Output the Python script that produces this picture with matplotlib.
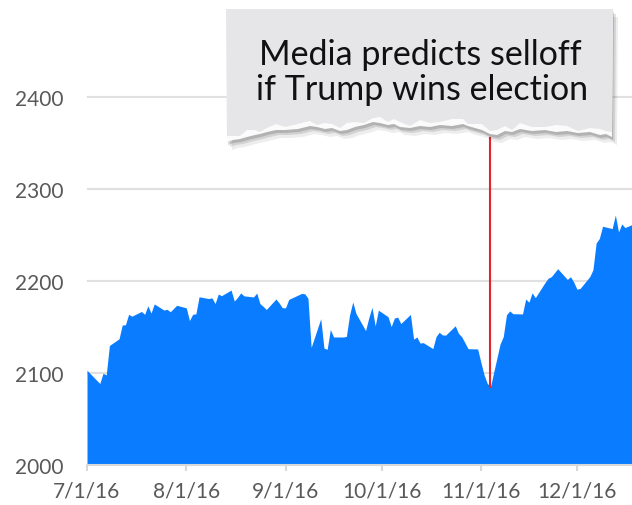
import matplotlib.pyplot as plt
import numpy as np
import pandas as pd
from matplotlib.patches import Polygon

# S&P 500 daily close
dates = [
    "2016-07-01", "2016-07-05", "2016-07-06", "2016-07-07", "2016-07-08",
    "2016-07-11", "2016-07-12", "2016-07-13", "2016-07-14", "2016-07-15",
    "2016-07-18", "2016-07-19", "2016-07-20", "2016-07-21", "2016-07-22",
    "2016-07-25", "2016-07-26", "2016-07-27", "2016-07-28", "2016-07-29",
    "2016-08-01", "2016-08-02", "2016-08-03", "2016-08-04", "2016-08-05",
    "2016-08-08", "2016-08-09", "2016-08-10", "2016-08-11", "2016-08-12",
    "2016-08-15", "2016-08-16", "2016-08-17", "2016-08-18", "2016-08-19",
    "2016-08-22", "2016-08-23", "2016-08-24", "2016-08-25", "2016-08-26",
    "2016-08-29", "2016-08-30", "2016-08-31", "2016-09-01", "2016-09-02",
    "2016-09-06", "2016-09-07", "2016-09-08", "2016-09-09", "2016-09-12",
    "2016-09-13", "2016-09-14", "2016-09-15", "2016-09-16", "2016-09-19",
    "2016-09-20", "2016-09-21", "2016-09-22", "2016-09-23", "2016-09-26",
    "2016-09-27", "2016-09-28", "2016-09-29", "2016-09-30", "2016-10-03",
    "2016-10-04", "2016-10-05", "2016-10-06", "2016-10-07", "2016-10-10",
    "2016-10-11", "2016-10-12", "2016-10-13", "2016-10-14", "2016-10-17",
    "2016-10-18", "2016-10-19", "2016-10-20", "2016-10-21", "2016-10-24",
    "2016-10-25", "2016-10-26", "2016-10-27", "2016-10-28", "2016-10-31",
    "2016-11-01", "2016-11-02", "2016-11-03", "2016-11-04", "2016-11-07",
    "2016-11-08", "2016-11-09", "2016-11-10", "2016-11-11", "2016-11-14",
    "2016-11-15", "2016-11-16", "2016-11-17", "2016-11-18", "2016-11-21",
    "2016-11-22", "2016-11-23", "2016-11-25", "2016-11-28", "2016-11-29",
    "2016-11-30", "2016-12-01", "2016-12-02", "2016-12-05", "2016-12-06",
    "2016-12-07", "2016-12-08", "2016-12-09", "2016-12-12", "2016-12-13",
    "2016-12-14", "2016-12-15", "2016-12-16", "2016-12-19",
]
close = [
    2102.95, 2088.55, 2099.73, 2097.90, 2129.90,
    2137.16, 2152.14, 2152.43, 2163.75, 2161.74,
    2166.89, 2163.78, 2173.02, 2165.17, 2175.03,
    2168.48, 2169.18, 2166.58, 2170.06, 2173.60,
    2170.84, 2157.03, 2163.79, 2164.25, 2182.87,
    2180.89, 2181.74, 2175.49, 2185.79, 2184.05,
    2190.15, 2178.15, 2182.22, 2187.02, 2183.87,
    2182.64, 2186.90, 2175.44, 2172.47, 2169.04,
    2180.38, 2176.12, 2170.95, 2170.86, 2179.98,
    2186.48, 2186.16, 2181.30, 2127.81, 2159.04,
    2127.02, 2125.77, 2147.26, 2139.16, 2139.12,
    2139.76, 2163.12, 2177.18, 2164.69, 2146.10,
    2159.93, 2171.37, 2151.13, 2168.27, 2161.20,
    2150.49, 2159.73, 2160.77, 2153.74, 2163.66,
    2136.73, 2139.18, 2132.55, 2132.98, 2126.50,
    2139.60, 2144.29, 2141.34, 2141.16, 2151.33,
    2143.16, 2139.43, 2133.04, 2126.41, 2126.15,
    2111.72, 2097.94, 2088.66, 2085.18, 2131.52,
    2139.56, 2163.26, 2167.48, 2164.45, 2164.20,
    2180.39, 2176.94, 2187.12, 2181.90, 2198.18,
    2202.94, 2204.72, 2213.35, 2201.72, 2204.66,
    2198.81, 2191.08, 2191.95, 2204.71, 2212.23,
    2241.35, 2246.19, 2259.53, 2256.96, 2271.72,
    2253.28, 2262.03, 2258.07, 2262.53,
]

tick_dates = ["2016-07-01", "2016-08-01", "2016-09-01", "2016-10-01", "2016-11-01", "2016-12-01"]
tick_labels = ["7/1/16", "8/1/16", "9/1/16", "10/1/16", "11/1/16", "12/1/16"]
y_ticks = [2000, 2100, 2200, 2300, 2400]
callout_lines = ["Media predicts selloff", "if Trump wins election"]

x = pd.to_datetime(dates)
y = np.array(close)

W, H = 632, 506
fig = plt.figure(figsize=(W / 100, H / 100), dpi=100)
ax = fig.add_axes([87 / W, 40 / H, 1 - 87 / W, 414 / H])

ax.fill_between(x, y, 2000, color="#0a7cff", lw=0, zorder=2)

# red marker line at the pre-election low
i_min = int(np.argmin(y))
ax.plot([x[i_min], x[i_min]], [y[i_min], 2355], color="#e3262b", lw=1.5, zorder=3)

ax.set_ylim(2000, 2450)
ax.set_xlim(pd.Timestamp("2016-07-01"), pd.Timestamp("2016-07-01") + pd.Timedelta(days=170.2))
ax.set_yticks(y_ticks)
ax.set_xticks(pd.to_datetime(tick_dates))
ax.set_xticklabels(tick_labels)

ax.yaxis.grid(True, color="#e0e0e0", lw=1.5, zorder=0)
ax.set_axisbelow(True)
for s in ["top", "right", "left"]:
    ax.spines[s].set_visible(False)
ax.spines["bottom"].set_color("#d8d8d8")
ax.spines["bottom"].set_linewidth(1.5)
# pads are in points (100 dpi -> 0.72 pt per px)
ax.tick_params(axis="y", length=0, pad=17, labelsize=15, labelcolor="#595959")
ax.tick_params(axis="x", length=4.5, width=1.5, color="#d8d8d8", pad=6.5, labelsize=15, labelcolor="#595959")
for lab in ax.get_xticklabels() + ax.get_yticklabels():
    lab.set_family("Lato")


# callout box with a torn bottom edge, drawn in pixel coords (top-left origin)
def px(pts):
    return [(a / W, 1 - b / H) for a, b in pts]


edge = [(612, 138), (606, 135), (600, 136), (590, 133), (578, 134), (567, 132),
        (556, 133), (545, 131), (532, 132), (520, 130), (512, 133), (505, 132),
        (497, 136), (490, 135), (482, 131), (475, 129), (468, 127), (463, 125),
        (452, 127), (440, 126), (430, 128), (420, 127), (410, 129), (400, 128),
        (394, 125), (388, 126), (380, 124), (373, 123), (364, 126), (355, 128),
        (347, 131), (340, 132), (332, 129), (325, 130), (317, 128), (310, 127),
        (298, 130), (285, 131), (276, 131), (267, 133), (260, 135), (255, 136),
        (247, 138), (240, 140), (233, 141), (227, 143)]
top = [(226, 10), (613, 10)]

for dx, dy, a in [(5, 8, 0.07), (3, 5, 0.11), (1, 3, 0.15)]:
    shadow = [(p + dx, q + dy) for p, q in top + edge]
    fig.add_artist(Polygon(px(shadow), closed=True, transform=fig.transFigure,
                           fc="black", ec="none", alpha=a, zorder=5))
fig.add_artist(Polygon(px(top + edge), closed=True, transform=fig.transFigure,
                       fc="#fbfbfb", ec="none", zorder=6))
jag = [5, 3, 6, 4, 2, 5, 7, 3, 4, 6, 2, 5]
inner = [(p, q - jag[i % len(jag)]) for i, (p, q) in enumerate(edge)]
fig.add_artist(Polygon(px(top + inner), closed=True, transform=fig.transFigure,
                       fc="#e6e6e8", ec="none", zorder=7))

fig.text(420 / W, 1 - 65 / H, callout_lines[0], ha="center", va="baseline",
         fontsize=24.5, family="Lato", color="#111111", zorder=8)
fig.text(422 / W, 1 - 100 / H, callout_lines[1], ha="center", va="baseline",
         fontsize=24.5, family="Lato", color="#111111", zorder=8)

fig.savefig("out.png", dpi=100)
